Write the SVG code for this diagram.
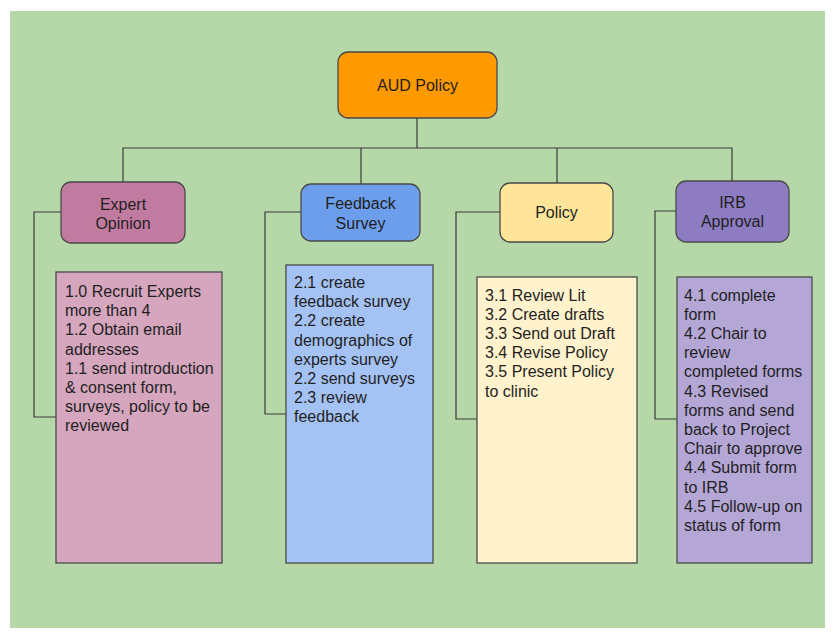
<svg xmlns="http://www.w3.org/2000/svg" width="835" height="634" viewBox="0 0 835 634">
<style>
.hdr{stroke:#4a4a4a;stroke-width:1.3}
.box{stroke:#4a4a4a;stroke-width:1.3}
.lbl{font-family:"Liberation Sans",Arial,sans-serif;font-size:16px;fill:#1f1f1f;text-anchor:middle}
.txt{font-family:"Liberation Sans",Arial,sans-serif;font-size:16px;fill:#1f1f1f}
.con{fill:none;stroke:#3a3a3a;stroke-width:1.2}
</style>
<rect x="0" y="0" width="835" height="634" fill="#ffffff"/>
<rect x="10" y="11" width="815" height="617" fill="#b6d7a8"/>
<g id="connectors">
<polyline class="con" points="417,118 417,148"/>
<polyline class="con" points="123,182 123,148 732,148 732,181"/>
<polyline class="con" points="361,148 361,184"/>
<polyline class="con" points="557,148 557,183"/>
<polyline class="con" points="61,212 34,212 34,417 56,417"/>
<polyline class="con" points="301,212 265,212 265,414 286,414"/>
<polyline class="con" points="500,212 456,212 456,419 477,419"/>
<polyline class="con" points="676,211 655,211 655,419 677,419"/>
</g>
<g id="aud-policy">
<rect class="hdr" x="338" y="52" width="159" height="66" rx="10" fill="#ff9900"/>
<text class="lbl" x="417.5" y="91">AUD Policy</text>
</g>
<g id="expert-opinion">
<rect class="hdr" x="61" y="182" width="124" height="61" rx="10" fill="#c27ba0"/>
<text class="lbl" x="123" y="210">Expert</text>
<text class="lbl" x="123" y="229">Opinion</text>
</g>
<g id="expert-tasks">
<rect class="box" x="56" y="272" width="166" height="291" fill="#d5a6bd"/>
<text class="txt" x="65" y="297">1.0 Recruit Experts</text>
<text class="txt" x="65" y="316.2">more than 4</text>
<text class="txt" x="65" y="335.4">1.2 Obtain email</text>
<text class="txt" x="65" y="354.6">addresses</text>
<text class="txt" x="65" y="373.8">1.1 send introduction</text>
<text class="txt" x="65" y="393">&amp; consent form,</text>
<text class="txt" x="65" y="412.2">surveys, policy to be</text>
<text class="txt" x="65" y="431.4">reviewed</text>
</g>
<g id="feedback-survey">
<rect class="hdr" x="301" y="184" width="119" height="57" rx="10" fill="#6d9eeb"/>
<text class="lbl" x="360.5" y="209">Feedback</text>
<text class="lbl" x="360.5" y="229">Survey</text>
</g>
<g id="feedback-tasks">
<rect class="box" x="286" y="265" width="147" height="298" fill="#a4c2f4"/>
<text class="txt" x="294" y="288">2.1 create</text>
<text class="txt" x="294" y="307.2">feedback survey</text>
<text class="txt" x="294" y="326.4">2.2 create</text>
<text class="txt" x="294" y="345.6">demographics of</text>
<text class="txt" x="294" y="364.8">experts survey</text>
<text class="txt" x="294" y="384">2.2 send surveys</text>
<text class="txt" x="294" y="403.2">2.3 review</text>
<text class="txt" x="294" y="422.4">feedback</text>
</g>
<g id="policy">
<rect class="hdr" x="500" y="183" width="113" height="59" rx="10" fill="#ffe599"/>
<text class="lbl" x="556.5" y="218">Policy</text>
</g>
<g id="policy-tasks">
<rect class="box" x="477" y="277" width="160" height="286" fill="#fff2cc"/>
<text class="txt" x="485" y="300.5">3.1 Review Lit</text>
<text class="txt" x="485" y="319.7">3.2 Create drafts</text>
<text class="txt" x="485" y="338.9">3.3 Send out Draft</text>
<text class="txt" x="485" y="358.1">3.4 Revise Policy</text>
<text class="txt" x="485" y="377.3">3.5 Present Policy</text>
<text class="txt" x="485" y="396.5">to clinic</text>
</g>
<g id="irb-approval">
<rect class="hdr" x="676" y="181" width="113" height="61" rx="10" fill="#8e7cc3"/>
<text class="lbl" x="732.5" y="208">IRB</text>
<text class="lbl" x="732.5" y="227">Approval</text>
</g>
<g id="irb-tasks">
<rect class="box" x="677" y="277" width="135" height="286" fill="#b4a7d6"/>
<text class="txt" x="684" y="300.5">4.1 complete</text>
<text class="txt" x="684" y="319.7">form</text>
<text class="txt" x="684" y="338.9">4.2 Chair to</text>
<text class="txt" x="684" y="358.1">review</text>
<text class="txt" x="684" y="377.3">completed forms</text>
<text class="txt" x="684" y="396.5">4.3 Revised</text>
<text class="txt" x="684" y="415.7">forms and send</text>
<text class="txt" x="684" y="434.9">back to Project</text>
<text class="txt" x="684" y="454.1">Chair to approve</text>
<text class="txt" x="684" y="473.3">4.4 Submit form</text>
<text class="txt" x="684" y="492.5">to IRB</text>
<text class="txt" x="684" y="511.7">4.5 Follow-up on</text>
<text class="txt" x="684" y="530.9">status of form</text>
</g>
</svg>
